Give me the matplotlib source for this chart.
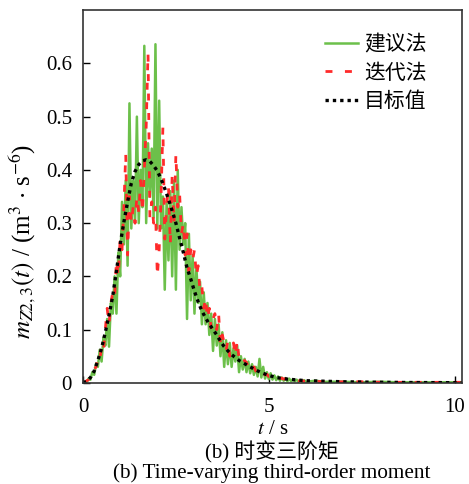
import numpy as np
import matplotlib
matplotlib.use('Agg')
import matplotlib.pyplot as plt
from matplotlib.ticker import FuncFormatter

plt.rcParams['font.family'] = ['Liberation Serif', 'Noto Sans CJK SC']
plt.rcParams['mathtext.fontset'] = 'stix'

# time grid of the two simulated curves (0 .. 6 s, 0.05 s) plus a sparse tail
t_main = np.round(np.arange(0, 6.001, 0.05), 2)
t_tail = [6.25, 6.5, 7.0, 7.5, 8.0, 8.5, 9.0, 9.5, 10.0, 10.2]

# proposed method (green)
green_main = [
    0.000, 0.002, 0.001, 0.008, 0.006, 0.020, 0.015, 0.036, 0.030, 0.062,
    0.040, 0.085, 0.070, 0.120, 0.068, 0.150, 0.130, 0.200, 0.130, 0.245,
    0.200, 0.340, 0.260, 0.380, 0.220, 0.525, 0.290, 0.380, 0.300, 0.500,
    0.300, 0.400, 0.330, 0.633, 0.300, 0.450, 0.350, 0.440, 0.310, 0.636,
    0.290, 0.530, 0.290, 0.350, 0.175, 0.340, 0.230, 0.360, 0.200, 0.380,
    0.175, 0.400, 0.250, 0.330, 0.260, 0.300, 0.120, 0.280, 0.155, 0.240,
    0.130, 0.220, 0.150, 0.190, 0.110, 0.170, 0.110, 0.150, 0.090, 0.130,
    0.060, 0.120, 0.070, 0.110, 0.050, 0.095, 0.030, 0.080, 0.035, 0.075,
    0.030, 0.065, 0.040, 0.070, 0.020, 0.050, 0.025, 0.045, 0.020, 0.040,
    0.018, 0.035, 0.015, 0.030, 0.012, 0.045, 0.010, 0.030, 0.008, 0.020,
    0.007, 0.018, 0.006, 0.014, 0.005, 0.012, 0.004, 0.010, 0.004, 0.009,
    0.003, 0.008, 0.003, 0.007, 0.003, 0.006, 0.002, 0.005, 0.002, 0.005,
    0.002,
]
green_tail = [0.004, 0.002, 0.002, 0.001, 0.002, 0.001, 0.001, 0.001, 0.001, 0.001]

# iterative method (red)
red_main = [
    0.000, 0.001, 0.004, 0.006, 0.012, 0.014, 0.025, 0.030, 0.045, 0.040,
    0.070, 0.060, 0.100, 0.140, 0.110, 0.150, 0.170, 0.160, 0.230, 0.200,
    0.270, 0.250, 0.330, 0.430, 0.240, 0.350, 0.300, 0.330, 0.300, 0.350,
    0.320, 0.380, 0.320, 0.400, 0.480, 0.620, 0.310, 0.340, 0.300, 0.330,
    0.200, 0.250, 0.350, 0.480, 0.270, 0.330, 0.370, 0.260, 0.390, 0.300,
    0.430, 0.330, 0.355, 0.280, 0.300, 0.240, 0.280, 0.210, 0.250, 0.230,
    0.250, 0.200, 0.220, 0.170, 0.180, 0.140, 0.160, 0.120, 0.140, 0.100,
    0.120, 0.130, 0.100, 0.130, 0.070, 0.090, 0.075, 0.060, 0.080, 0.050,
    0.065, 0.075, 0.050, 0.080, 0.045, 0.050, 0.040, 0.042, 0.038, 0.030,
    0.035, 0.025, 0.030, 0.022, 0.020, 0.025, 0.018, 0.020, 0.015, 0.016,
    0.012, 0.013, 0.010, 0.012, 0.009, 0.010, 0.008, 0.009, 0.007, 0.008,
    0.006, 0.007, 0.006, 0.005, 0.005, 0.005, 0.004, 0.004, 0.004, 0.003,
    0.003,
]
red_tail = [0.003, 0.002, 0.002, 0.002, 0.001, 0.001, 0.001, 0.001, 0.001, 0.001]

# target value (black dotted)
t_target = [0.0, 0.1, 0.2, 0.3, 0.4, 0.5, 0.6, 0.7, 0.8, 0.9, 1.0, 1.1, 1.2,
            1.3, 1.4, 1.5, 1.6, 1.7, 1.8, 1.9, 2.0, 2.1, 2.2, 2.3, 2.4, 2.5,
            2.6, 2.7, 2.8, 2.9, 3.0, 3.1, 3.2, 3.3, 3.4, 3.5, 3.6, 3.7, 3.8,
            3.9, 4.0, 4.2, 4.4, 4.6, 4.8, 5.0, 5.2, 5.5, 6.0, 6.5, 7.0, 8.0,
            9.0, 10.0, 10.2]
target = [0.000, 0.003, 0.010, 0.022, 0.042, 0.065, 0.095, 0.127, 0.163,
          0.210, 0.260, 0.302, 0.340, 0.375, 0.397, 0.410, 0.417, 0.419,
          0.416, 0.408, 0.398, 0.383, 0.365, 0.345, 0.323, 0.300, 0.272,
          0.245, 0.216, 0.195, 0.172, 0.152, 0.135, 0.122, 0.110, 0.100,
          0.090, 0.078, 0.068, 0.060, 0.053, 0.042, 0.034, 0.026, 0.019,
          0.014, 0.010, 0.007, 0.004, 0.003, 0.002, 0.001, 0.0005, 0.0003,
          0.0003]

labels = ['建议法', '迭代法', '目标值']

t_all = np.concatenate([t_main, t_tail])
green = np.concatenate([green_main, green_tail])
red = np.concatenate([red_main, red_tail])

fig = plt.figure(figsize=(4.69, 4.84), dpi=100)
ax = fig.add_axes([0.177, 0.209, 0.808, 0.770])

ax.plot(t_all, green, color='#6cc04a', lw=1.8, label=labels[0])
ax.plot(t_all, red, color='#ff2a2a', lw=2.0, ls=(0, (2.5, 4.5)), label=labels[1])
ax.plot(t_target, target, color='black', lw=2.4, ls=(0, (1, 1.2)), label=labels[2])

ax.set_xlim(0, 10.2)
ax.set_ylim(0, 0.7)
ax.set_xticks([0, 5, 10])
ax.set_yticks([0, 0.1, 0.2, 0.3, 0.4, 0.5, 0.6])
ax.yaxis.set_major_formatter(FuncFormatter(lambda v, p: '0' if v == 0 else f'{v:.1f}'))
ax.tick_params(direction='in', length=5, width=1.0, labelsize=15,
               top=False, right=False)
ax.tick_params(axis='x', pad=11)
ax.tick_params(axis='y', pad=8)
for s in ax.spines.values():
    s.set_linewidth(1.2)
    s.set_color('#333333')

ax.set_xlabel(r'$t$ / s', fontsize=15, labelpad=2)
ax.set_ylabel(r'$m_{Z2,3}(t)$ / (m$^3$ $\cdot$ s$^{-6}$)', fontsize=18)
ax.yaxis.set_label_coords(-0.12, 0.38)

leg = ax.legend(loc='upper right', bbox_to_anchor=(0.929, 0.955), frameon=False,
                fontsize=15, handlelength=1.6, handletextpad=0.3,
                labelspacing=0.42, borderaxespad=0.0)

fig.text(0.58, 0.066, '(b) 时变三阶矩', ha='center', va='center', fontsize=15)
fig.text(0.58, 0.022, '(b) Time-varying third-order moment', ha='center',
         va='center', fontsize=15.3)

fig.savefig('out.png', dpi=100)
